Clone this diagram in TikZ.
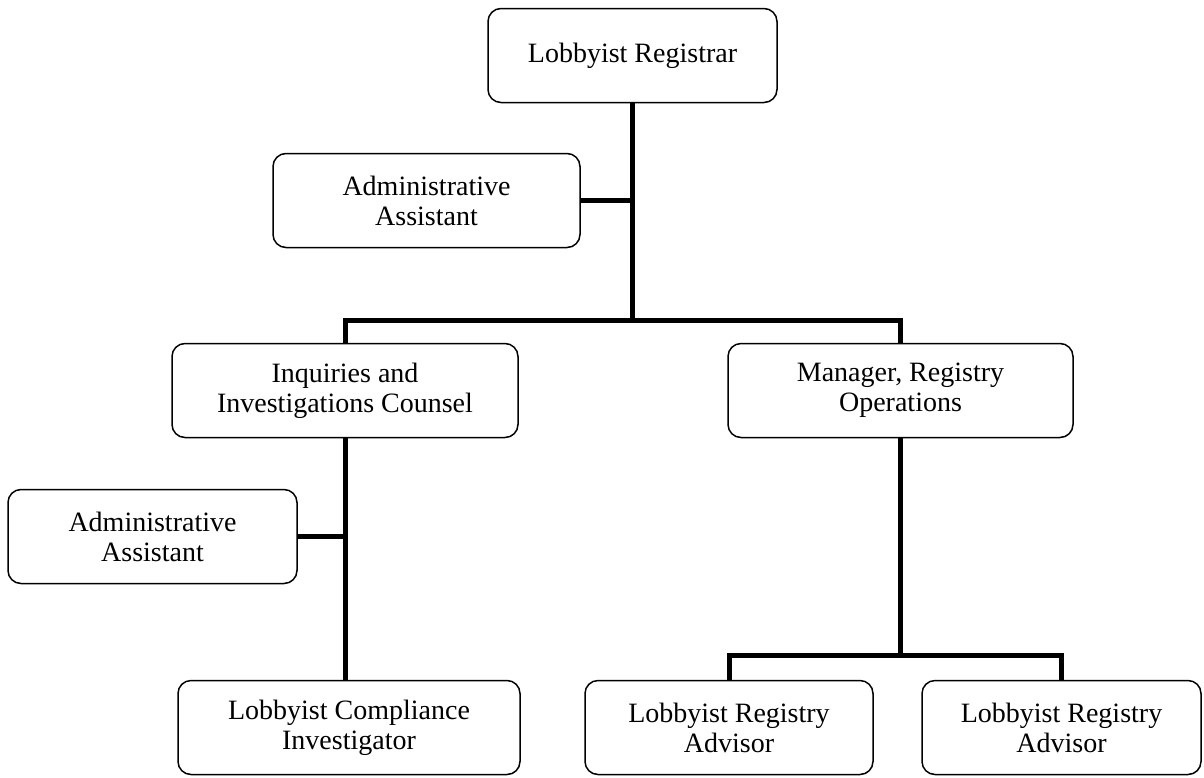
\documentclass[tikz,border=0pt]{standalone}
\usepackage{fontspec}
\setmainfont{Liberation Serif}
\begin{document}
\begin{tikzpicture}[x=0.5pt,y=-0.5pt,
    box/.style={draw,rounded corners=6.5pt,line width=0.75pt,align=center,inner sep=0pt,
        font=\fontsize{14}{15}\selectfont,minimum height=47pt},
    link/.style={line width=2.5pt}]
    \useasboundingbox (0,0) rectangle (1204,777);
    \node[box,minimum width=144.5pt] (reg) at (632.5,55.5) {Lobbyist Registrar};
    \node[box,minimum width=153.5pt] (adm1) at (426.5,200.5) {Administrative\\Assistant};
    \node[box,minimum width=173pt] (inq) at (345,390.5) {Inquiries and\\Investigations Counsel};
    \node[box,minimum width=172.5pt] (mgr) at (900.5,390.5) {Manager, Registry\\Operations};
    \node[box,minimum width=144.5pt] (adm2) at (152.5,536.5) {Administrative\\Assistant};
    \node[box,minimum width=171pt] (comp) at (349,727.5) {Lobbyist Compliance\\Investigator};
    \node[box,minimum width=144pt] (adv1) at (729,727.5) {Lobbyist Registry\\Advisor};
    \node[box,minimum width=139.5pt] (adv2) at (1061.5,727.5) {Lobbyist Registry\\Advisor};
    \coordinate (top) at (632,320);
    \coordinate (split) at (900.5,655);
    \draw[link] (reg.south) -- (reg.south |- top);
    \draw[link] (adm1.east) -- (adm1.east -| reg.south);
    \draw[link] (inq.north) |- (top) -| (mgr.north);
    \draw[link] (inq.south) -- (inq.south |- comp.north);
    \draw[link] (adm2.east) -- (adm2.east -| inq.south);
    \draw[link] (mgr.south) -- (split);
    \draw[link] (adv1.north) |- (split) -| (adv2.north);
\end{tikzpicture}
\end{document}
